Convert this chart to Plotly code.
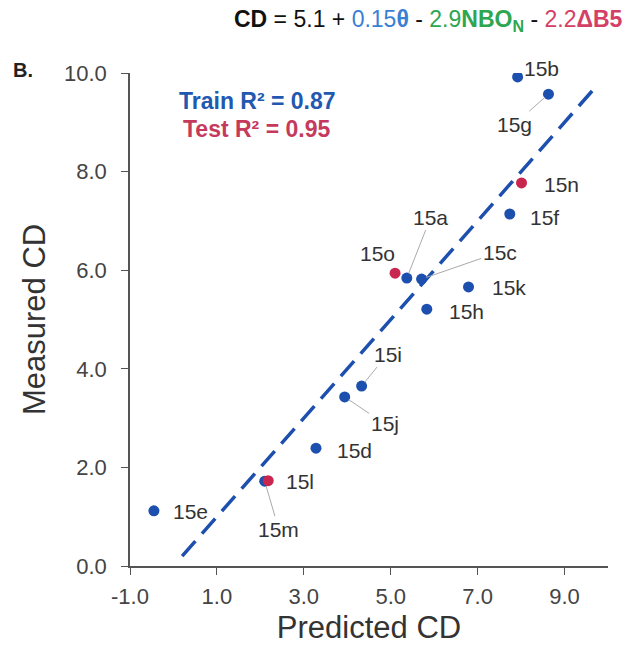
import plotly.graph_objects as go

# ---- data ----
names     = ["15b", "15g", "15n", "15f", "15o", "15a", "15c", "15k", "15h",
             "15i", "15j", "15d", "15m", "15l", "15e"]
predicted = [7.92, 8.63, 8.01, 7.74, 5.10, 5.37, 5.71, 6.79, 5.83,
             4.33, 3.94, 3.28, 2.10, 2.18, -0.45]
measured  = [9.92, 9.57, 7.77, 7.14, 5.94, 5.84, 5.82, 5.66, 5.21,
             3.65, 3.43, 2.39, 1.72, 1.73, 1.12]
dataset   = ["train", "train", "test", "train", "test", "train", "train", "train", "train",
             "train", "train", "train", "train", "test", "train"]
fit_line  = [0.2, 9.7]
x_ticks   = [-1, 1, 3, 5, 7, 9]
y_ticks   = [0, 2, 4, 6, 8, 10]

# ---- styles ----
BLUE = "#1d4fae"
RED = "#c8264f"
FONT = "Liberation Sans, Arial, sans-serif"

# label offsets in px (dx, dy; dy positive = down), leader flag
label_style = {
    "15b": (24, -8, True), "15g": (-34, 30, True), "15n": (40, 2, False),
    "15f": (35, 3, False), "15o": (-18, -20, False), "15a": (24, -61, True),
    "15c": (78, -27, True), "15k": (40, 1, False), "15h": (40, 2, False),
    "15i": (26, -32, True), "15j": (40, 27, True), "15d": (39, 2, False),
    "15m": (14, 48, True), "15l": (32, 1, False), "15e": (37, 1, False),
}

fig = go.Figure()

fig.add_trace(go.Scatter(
    x=fit_line, y=fit_line, mode="lines",
    line=dict(color=BLUE, width=3.5, dash="20px,10px"),
    hoverinfo="skip", showlegend=False))

for grp, col in (("train", BLUE), ("test", RED)):
    xs = [p for p, d in zip(predicted, dataset) if d == grp]
    ys = [m for m, d in zip(measured, dataset) if d == grp]
    fig.add_trace(go.Scatter(x=xs, y=ys, mode="markers",
                             marker=dict(color=col, size=11),
                             showlegend=False))

annotations = []
for n, px, my in zip(names, predicted, measured):
    dx, dy, leader = label_style[n]
    if leader:
        annotations.append(dict(
            x=px, y=my, xref="x", yref="y", text=n, showarrow=True,
            ax=dx, ay=dy, arrowhead=0, arrowwidth=1, arrowcolor="#aaaaaa",
            standoff=5, font=dict(family=FONT, size=21, color="#333333")))
    else:
        annotations.append(dict(
            x=px, y=my, xref="x", yref="y", text=n, showarrow=False,
            xshift=dx, yshift=-dy,
            font=dict(family=FONT, size=21, color="#333333")))

equation = ("<b>CD</b> = 5.1 + <span style='color:#3a7fd2'>0.15<b>θ</b></span> - "
            "<span style='color:#2ea650'>2.9<b>NBO<sub>N</sub></b></span> - "
            "<span style='color:#d43f66'>2.2<b>ΔB5</b></span>")
paper_texts = [
    (428, 20, equation, 23, "#111111"),
    (23, 70, "<b>B.</b>", 20, "#222222"),
    (257, 101, "<b>Train R² = 0.87</b>", 23, "#2358b0"),
    (256, 129, "<b>Test R² = 0.95</b>", 23, "#c53a5c"),
    (34, 320, "Measured CD", 31, "#333333"),
]

L, R, T, B = 130, 20, 73, 79
W, H = 628, 645
for px_x, px_y, txt, sz, col in paper_texts:
    annotations.append(dict(
        x=(px_x - L) / (W - L - R), y=(H - px_y - B) / (H - T - B),
        xref="paper", yref="paper", xanchor="center", yanchor="middle",
        textangle=-90 if txt == "Measured CD" else 0,
        text=txt, showarrow=False, font=dict(family=FONT, size=sz, color=col)))

fig.update_layout(
    width=W, height=H,
    margin=dict(l=L, r=R, t=T, b=B),
    plot_bgcolor="white", paper_bgcolor="white",
    font=dict(family=FONT, color="#333333"),
    annotations=annotations,
    xaxis=dict(range=[-1, 10], tickvals=x_ticks,
               ticktext=[f"{v:.1f}" for v in x_ticks],
               showgrid=False, zeroline=False, showline=True, automargin=False,
               linecolor="#555555", linewidth=1.5, ticks="outside",
               ticklen=7, tickcolor="#555555", ticklabelstandoff=3,
               tickfont=dict(size=22, color="#444444"),
               title=dict(text="Predicted CD", font=dict(size=31, color="#333333"))),
    yaxis=dict(range=[0, 10], tickvals=y_ticks,
               ticktext=[f"{v:.1f}" for v in y_ticks],
               showgrid=False, zeroline=False, showline=True, automargin=False,
               linecolor="#555555", linewidth=1.5, ticks="outside",
               ticklen=7, tickcolor="#555555", ticklabelstandoff=10,
               tickfont=dict(size=22, color="#444444")),
)

fig.write_html("out.html")
